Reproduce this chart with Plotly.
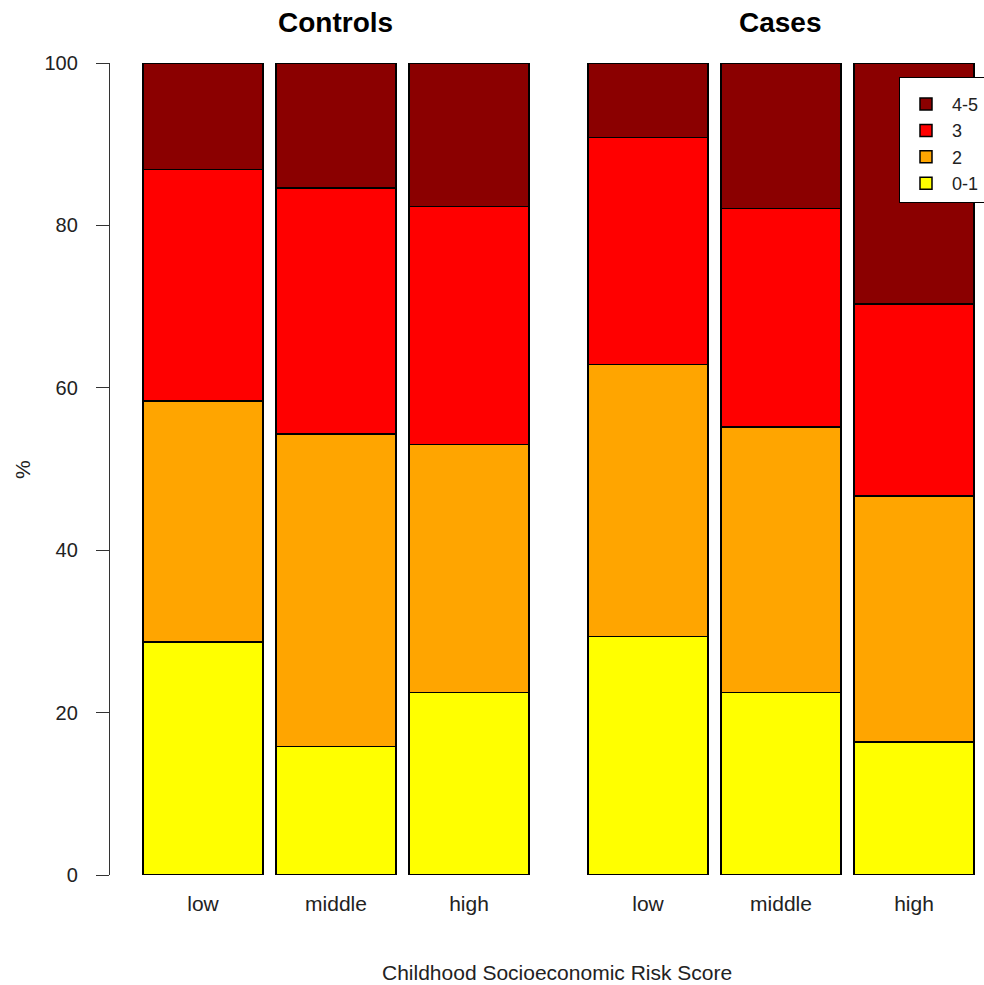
import plotly.graph_objects as go

categories = ["low", "middle", "high"]
groups = ["Controls", "Cases"]
score_levels = ["0-1", "2", "3", "4-5"]
colors = ["#FFFF00", "#FFA500", "#FF0000", "#8B0000"]

# segment percentages (bottom to top) per group, per category
controls = {
    "0-1": [28.7, 15.8, 22.5],
    "2":   [29.7, 38.5, 30.5],
    "3":   [28.5, 30.3, 29.3],
    "4-5": [13.1, 15.4, 17.7],
}
cases = {
    "0-1": [29.4, 22.5, 16.4],
    "2":   [33.5, 32.7, 30.3],
    "3":   [27.9, 26.9, 23.6],
    "4-5": [9.2, 17.9, 29.7],
}
y_ticks = [0, 20, 40, 60, 80, 100]

W, H = 984, 985
L, R, T, B = 110, 3, 63, 110
pw, ph = W - L - R, H - T - B

def px_x(p):
    return (p - L) / pw

def px_y(p):
    return (H - B - p) / ph

fig = go.Figure()
for i, lvl in enumerate(score_levels):
    fig.add_trace(go.Bar(
        x=categories, y=controls[lvl], name=lvl,
        marker=dict(color=colors[i], line=dict(color="black", width=1.5)),
        xaxis="x", yaxis="y", showlegend=True, legendgroup=lvl,
    ))
    fig.add_trace(go.Bar(
        x=categories, y=cases[lvl], name=lvl,
        marker=dict(color=colors[i], line=dict(color="black", width=1.5)),
        xaxis="x2", yaxis="y2", showlegend=False, legendgroup=lvl,
    ))

pitch = 133.0
ctrl_left, ctrl_right = 110.0, 203 + 2.5 * pitch
case_left, case_right = 648 - 0.5 * pitch, 648 + 2.5 * pitch
ctrl_start = -0.5 - (ctrl_right - ctrl_left - 3 * pitch) / pitch

font = "Liberation Sans, Arial, sans-serif"
fig.update_layout(
    width=W, height=H,
    margin=dict(l=L, r=R, t=T, b=B, autoexpand=False),
    plot_bgcolor="white", paper_bgcolor="white",
    barmode="stack", bargap=13 / 133,
    font=dict(family=font, color="#222", size=20),
    xaxis=dict(domain=[px_x(ctrl_left), px_x(ctrl_right)], range=[ctrl_start, 2.5],
               showgrid=False, zeroline=False, showline=False, ticks="",
               tickfont=dict(size=21), ticklabelstandoff=14, anchor="y"),
    xaxis2=dict(domain=[px_x(case_left), min(1.0, px_x(case_right))], range=[-0.5, 2.5],
                showgrid=False, zeroline=False, showline=False, ticks="",
                tickfont=dict(size=21), ticklabelstandoff=14, anchor="y2"),
    yaxis=dict(domain=[0, 1], range=[0, 100], tickvals=y_ticks, showgrid=False,
               zeroline=False, showline=True, linecolor="#333", linewidth=1.3,
               ticks="outside", ticklen=13, tickcolor="#333", tickwidth=1.3,
               tickfont=dict(size=20), ticklabelstandoff=14, anchor="x"),
    yaxis2=dict(domain=[0, 1], range=[0, 100], matches="y", showgrid=False,
                zeroline=False, showline=False, ticks="", showticklabels=False,
                anchor="x2"),
    legend=dict(x=px_x(899), y=px_y(77), xanchor="left", yanchor="top",
                traceorder="reversed", bgcolor="white", bordercolor="black",
                borderwidth=1, font=dict(size=18), tracegroupgap=0,
                itemwidth=42, title=dict(text=" ", font=dict(size=6))),
    annotations=[
        dict(text="Controls", x=px_x(335), y=px_y(22), xref="paper", yref="paper",
             showarrow=False, font=dict(size=28, color="black", family=font, weight="bold"),
             xanchor="center", yanchor="middle"),
        dict(text="Cases", x=px_x(780), y=px_y(22), xref="paper", yref="paper",
             showarrow=False, font=dict(size=28, color="black", family=font, weight="bold"),
             xanchor="center", yanchor="middle"),
        dict(text="Childhood Socioeconomic Risk Score", x=px_x(557), y=px_y(972),
             xref="paper", yref="paper", showarrow=False, font=dict(size=21),
             xanchor="center", yanchor="middle"),
        dict(text="%", x=px_x(22), y=px_y(470), xref="paper", yref="paper",
             showarrow=False, font=dict(size=21), textangle=-90,
             xanchor="center", yanchor="middle"),
    ],
)

fig.write_html("out.html", config={"displayModeBar": False},
               post_script="document.body.style.margin='0';")
